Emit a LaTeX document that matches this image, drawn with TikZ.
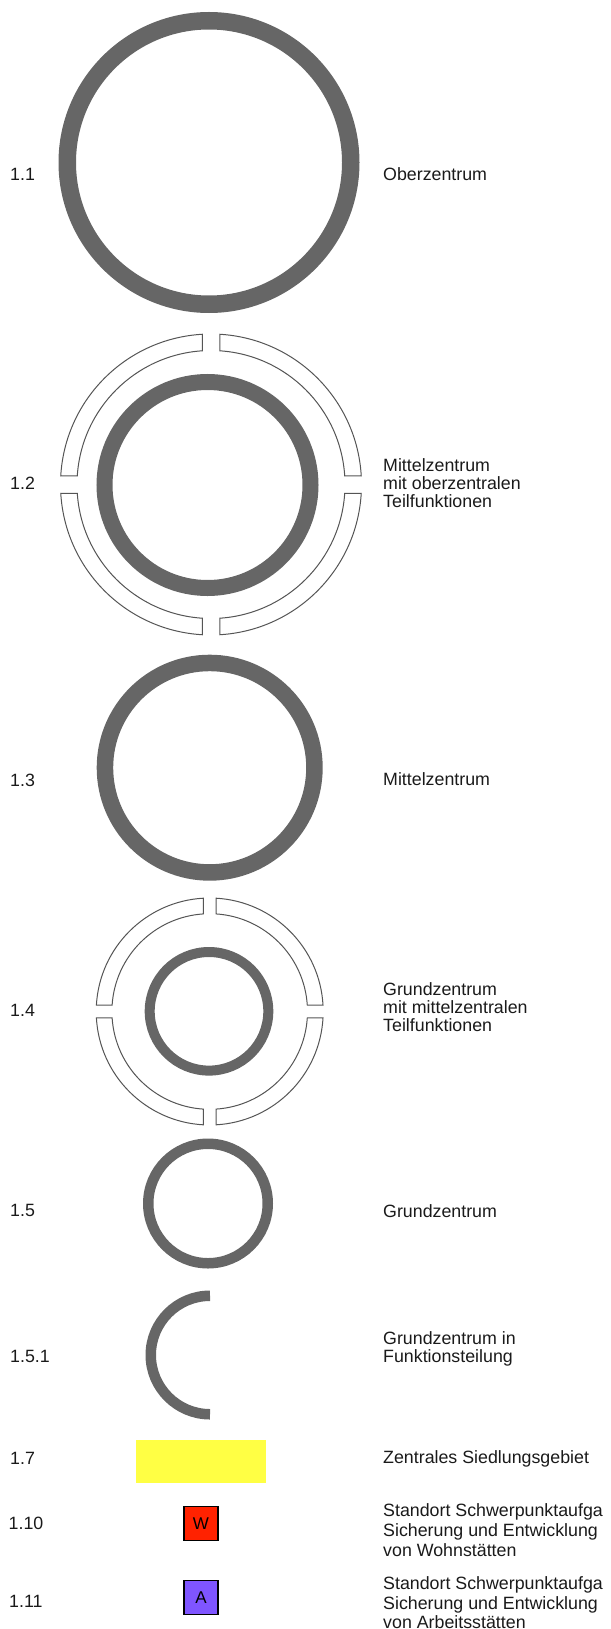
\documentclass[tikz,border=0pt]{standalone}
\usepackage{fontspec}
\setmainfont{Liberation Sans}
\definecolor{ringgray}{HTML}{666666}
\definecolor{outl}{HTML}{555555}
\definecolor{zsg}{HTML}{FFFF44}
\definecolor{wred}{HTML}{FF2200}
\definecolor{apurp}{HTML}{7F55FF}
\definecolor{txt}{HTML}{1A1A1A}
\newcommand\quadsegments[5]{%
  \pgfmathsetmacro\qao{asin((#5/2)/#3)}%
  \pgfmathsetmacro\qbo{90-\qao}%
  \pgfmathsetmacro\qai{asin((#5/2)/#4)}%
  \pgfmathsetmacro\qbi{90-\qai}%
  \foreach \rot in {0,90,180,270}{%
    \begin{scope}[shift={(#1,#2)}, rotate=\rot]
      \draw[segline] (\qbo:#3pt) arc[start angle=\qbo, end angle=\qao, radius=#3pt]
        -- (\qai:#4pt) arc[start angle=\qai, end angle=\qbi, radius=#4pt] -- cycle;
    \end{scope}
  }%
}
\begin{document}
\begin{tikzpicture}[x=1pt,y=-1pt,
  lbl/.style={anchor=base west, inner sep=0pt, text=txt, font=\fontsize{17.8}{20}\selectfont},
  thickring/.style={draw=ringgray},
  segline/.style={draw=outl, line width=1pt, fill=white},
  markbox/.style={draw=black, line width=1.5pt, minimum size=34pt, inner sep=0pt, text=black, font=\fontsize{17}{19}\selectfont}]
\useasboundingbox (0,0) rectangle (610,1629);

% 1.1
\draw[thickring, line width=17.5pt] (209,162.5) circle[radius=141.75pt];
% 1.2
\quadsegments{211}{484.5}{150.5}{134}{17.5}
\draw[thickring, line width=16pt] (207.5,485) circle[radius=103pt];
% 1.3
\draw[thickring, line width=16.5pt] (209.7,767.7) circle[radius=104.75pt];
% 1.4
\quadsegments{209.7}{1011.5}{113.5}{97.8}{12.7}
\draw[thickring, line width=10pt] (209,1011.3) circle[radius=59.3pt];
% 1.5
\draw[thickring, line width=10.5pt] (208,1203.5) circle[radius=59.75pt];
% 1.5.1
\draw[thickring, line width=10.5pt] ([shift={(210,1355)}]90:59.25pt) arc[start angle=90, end angle=270, radius=59.25pt];
% 1.7
\fill[zsg] (135.5,1440) rectangle (266,1482.7);
% 1.10 / 1.11
\node[markbox, fill=wred] (wbox) at (201,1523.3) {W};
\node[markbox, fill=apurp] (abox) at (201,1597.5) {A};

% labels
\node[lbl] (n11) at (10,180.5) {1.1};
\node[lbl] (t11) at (383,180.5) {Oberzentrum};
\node[lbl] (n12) at (10,489.5) {1.2};
\node[lbl] (t12a) at (383,471) {Mittelzentrum};
\node[lbl] (t12b) at (383,489.5) {mit oberzentralen};
\node[lbl] (t12c) at (383,507.5) {Teilfunktionen};
\node[lbl] (n13) at (10,786) {1.3};
\node[lbl] (t13) at (383,785.5) {Mittelzentrum};
\node[lbl] (n14) at (10,1016.5) {1.4};
\node[lbl] (t14a) at (383,995.5) {Grundzentrum};
\node[lbl] (t14b) at (383,1013.5) {mit mittelzentralen};
\node[lbl] (t14c) at (383,1031.5) {Teilfunktionen};
\node[lbl] (n15) at (10,1216) {1.5};
\node[lbl] (t15) at (383,1217) {Grundzentrum};
\node[lbl] (n151) at (10,1362.5) {1.5.1};
\node[lbl] (t151a) at (383,1344) {Grundzentrum in};
\node[lbl] (t151b) at (383,1362) {Funktionsteilung};
\node[lbl] (n17) at (10,1464.5) {1.7};
\node[lbl] (t17) at (383,1463) {Zentrales Siedlungsgebiet};
\node[lbl] (n110) at (8.5,1529.5) {1.10};
\node[lbl] (t110a) at (383,1516) {Standort Schwerpunktaufga};
\node[lbl] (t110b) at (383,1536) {Sicherung und Entwicklung};
\node[lbl] (t110c) at (383,1556) {von Wohnstätten};
\node[lbl] (n111) at (9,1607) {1.11};
\node[lbl] (t111a) at (383,1589.5) {Standort Schwerpunktaufga};
\node[lbl] (t111b) at (383,1609.5) {Sicherung und Entwicklung};
\node[lbl] (t111c) at (383,1628) {von Arbeitsstätten};
\end{tikzpicture}
\end{document}
